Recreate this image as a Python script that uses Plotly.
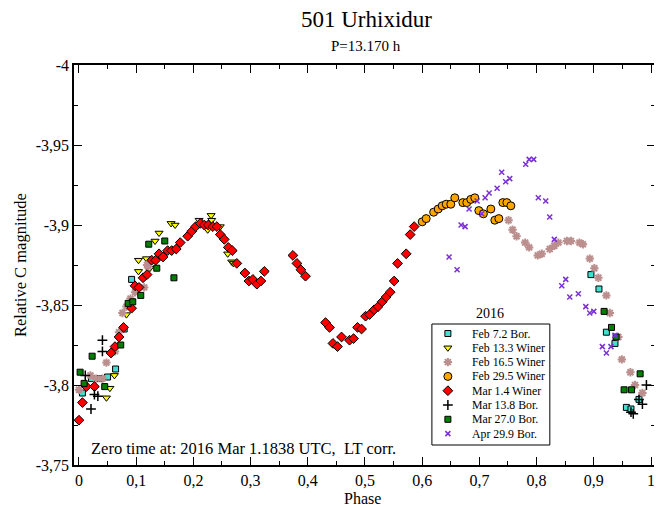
import plotly.graph_objects as go

# ---- data ----
cyan_phase = [0.006, 0.022, 0.037, 0.050, 0.064, 0.079, 0.092, 0.895, 0.909, 0.922, 0.937, 0.957, 0.965, 0.979]
cyan_mag = [-3.795, -3.804, -3.804, -3.805, -3.810, -3.835, -3.866, -3.869, -3.860, -3.833, -3.826, -3.786, -3.785, -3.791]

yellow_phase = [0.048, 0.054, 0.062, 0.083, 0.104, 0.104, 0.118, 0.124, 0.133, 0.140, 0.161, 0.168, 0.210, 0.225, 0.231, 0.232, 0.247, 0.260, 0.267, 0.270]
yellow_mag = [-3.792, -3.798, -3.806, -3.844, -3.871, -3.878, -3.879, -3.873, -3.890, -3.895, -3.901, -3.900, -3.903, -3.897, -3.906, -3.903, -3.899, -3.882, -3.877, -3.876]

brown_phase = [0.000, 0.020, 0.030, 0.041, 0.048, 0.063, 0.070, 0.076, 0.083, 0.090, 0.098, 0.114, 0.119, 0.121,
               0.751, 0.758, 0.765, 0.780, 0.787, 0.802, 0.809, 0.823, 0.831, 0.838, 0.853, 0.860, 0.875, 0.881,
               0.893, 0.901, 0.908, 0.922, 0.928, 0.943, 0.949, 0.964, 0.972, 0.985]
brown_mag = [-3.797, -3.806, -3.804, -3.804, -3.814, -3.821, -3.833, -3.845, -3.849, -3.854, -3.858, -3.861, -3.875, -3.874,
             -3.903, -3.897, -3.893, -3.889, -3.886, -3.881, -3.882, -3.885, -3.887, -3.889, -3.890, -3.890, -3.889, -3.888,
             -3.879, -3.873, -3.867, -3.856, -3.845, -3.830, -3.816, -3.808, -3.800, -3.795]

orange_phase = [0.600, 0.607, 0.620, 0.628, 0.635, 0.642, 0.650, 0.657, 0.671, 0.678, 0.685, 0.692, 0.699, 0.707, 0.720, 0.727, 0.734, 0.741, 0.748, 0.755]
orange_mag = [-3.902, -3.904, -3.908, -3.910, -3.912, -3.913, -3.913, -3.917, -3.914, -3.914, -3.916, -3.917, -3.909, -3.907, -3.910, -3.903, -3.904, -3.914, -3.914, -3.912]

red_phase = [0.000, 0.006, 0.013, 0.027, 0.056, 0.063, 0.070, 0.078, 0.092, 0.098, 0.105, 0.112, 0.119, 0.127, 0.134,
             0.140, 0.147, 0.155, 0.162, 0.170, 0.177, 0.190, 0.197, 0.204, 0.212, 0.219, 0.226, 0.234, 0.241, 0.247,
             0.254, 0.261, 0.268, 0.276, 0.290, 0.297, 0.304, 0.311, 0.318, 0.324, 0.374, 0.381, 0.388, 0.396, 0.431,
             0.438, 0.444, 0.452, 0.459, 0.473, 0.480, 0.487, 0.494, 0.501, 0.508, 0.516, 0.523, 0.530, 0.537, 0.544,
             0.551, 0.557, 0.572, 0.579, 0.586]
red_mag = [-3.778, -3.789, -3.799, -3.799, -3.820, -3.824, -3.830, -3.836, -3.848, -3.862, -3.861, -3.867, -3.869, -3.878, -3.878,
           -3.882, -3.880, -3.884, -3.884, -3.885, -3.889, -3.893, -3.896, -3.899, -3.901, -3.900, -3.900, -3.899, -3.899, -3.894,
           -3.891, -3.886, -3.884, -3.876, -3.870, -3.865, -3.866, -3.863, -3.865, -3.871, -3.881, -3.876, -3.872, -3.868, -3.839,
           -3.836, -3.826, -3.824, -3.830, -3.828, -3.829, -3.836, -3.835, -3.843, -3.844, -3.847, -3.849, -3.852, -3.855, -3.858,
           -3.865, -3.876, -3.882, -3.894, -3.899]

plus_phase = [0.011, 0.021, 0.027, 0.033, 0.041, 0.041, 0.965, 0.969, 0.979, 0.985, 0.992]
plus_mag = [-3.806, -3.785, -3.794, -3.793, -3.828, -3.821, -3.783, -3.782, -3.791, -3.788, -3.800]

green_phase = [0.002, 0.009, 0.023, 0.045, 0.073, 0.086, 0.094, 0.108, 0.122, 0.136, 0.150, 0.166, 0.918, 0.931, 0.939, 0.953, 0.966, 0.981]
green_mag = [-3.808, -3.801, -3.818, -3.799, -3.825, -3.851, -3.852, -3.856, -3.888, -3.873, -3.890, -3.867, -3.846, -3.836, -3.830, -3.797, -3.797, -3.807]

purple_phase = [0.647, 0.661, 0.668, 0.675, 0.682, 0.696, 0.704, 0.710, 0.717, 0.731, 0.739, 0.746, 0.753, 0.781, 0.787, 0.795,
                0.803, 0.816, 0.823, 0.831, 0.844, 0.851, 0.858, 0.873, 0.886, 0.893, 0.900, 0.915, 0.922, 0.930, 0.937]
purple_mag = [-3.880, -3.872, -3.900, -3.899, -3.910, -3.915, -3.907, -3.917, -3.920, -3.923, -3.933, -3.927, -3.929, -3.938, -3.941, -3.941,
              -3.917, -3.915, -3.905, -3.891, -3.862, -3.866, -3.855, -3.857, -3.849, -3.845, -3.846, -3.824, -3.820, -3.824, -3.831]

series_names = ["Feb 7.2 Bor.", "Feb 13.3 Winer", "Feb 16.5 Winer", "Feb 29.5 Winer",
                "Mar 1.4 Winer", "Mar 13.8 Bor.", "Mar 27.0 Bor.", "Apr 29.9 Bor."]

x_tickvals = [0, 0.1, 0.2, 0.3, 0.4, 0.5, 0.6, 0.7, 0.8, 0.9, 1.0]
x_ticktext = ["0", "0,1", "0,2", "0,3", "0,4", "0,5", "0,6", "0,7", "0,8", "0,9", "1"]
y_tickvals = [-4, -3.95, -3.9, -3.85, -3.8, -3.75]
y_ticktext = ["-4", "-3,95", "-3,9", "-3,85", "-3,8", "-3,75"]

FONT = "Liberation Serif, Times New Roman, Times, serif"

markers = [
    dict(symbol="square", size=6, color="#40E0D0", line=dict(color="black", width=1)),
    dict(symbol="triangle-down", size=7, color="#FFFF00", line=dict(color="black", width=1)),
    dict(symbol="asterisk-open", size=7, color="#BC8F8F", line=dict(color="#BC8F8F", width=2)),
    dict(symbol="circle", size=8, color="#FFA500", line=dict(color="black", width=1)),
    dict(symbol="diamond", size=7.5, color="#FF0000", line=dict(color="black", width=1)),
    dict(symbol="cross-thin-open", size=7, color="black", line=dict(color="black", width=1.5)),
    dict(symbol="square", size=6, color="#008000", line=dict(color="black", width=1)),
    dict(symbol="x-thin-open", size=5, color="#7B2FD6", line=dict(color="#7B2FD6", width=1.5)),
]
data_x = [cyan_phase, yellow_phase, brown_phase, orange_phase, red_phase, plus_phase, green_phase, purple_phase]
data_y = [cyan_mag, yellow_mag, brown_mag, orange_mag, red_mag, plus_mag, green_mag, purple_mag]

fig = go.Figure()
for name, xs, ys, mk in zip(series_names, data_x, data_y, markers):
    fig.add_trace(go.Scatter(x=xs, y=ys, mode="markers", name=name, marker=mk, showlegend=False))

# ---- compact legend box, like the reference ----
LEG_X0, LEG_X1, LEG_Y0, LEG_Y1 = 0.616, 0.819, 0.05, 0.3525
fig.add_shape(type="rect", xref="paper", yref="paper", x0=LEG_X0, x1=LEG_X1, y0=LEG_Y0, y1=LEG_Y1,
              line=dict(color="black", width=1), fillcolor="rgba(0,0,0,0)", layer="above")
for i, (name, mk) in enumerate(zip(series_names, markers)):
    fig.add_trace(go.Scatter(x=[16], y=[9.5 + 14.3 * i], mode="markers", marker=mk, name=name,
                             xaxis="x2", yaxis="y2", showlegend=False, hoverinfo="skip", cliponaxis=False))
    fig.add_annotation(text=name, xref="x2", yref="y2", x=38, y=9.5 + 14.3 * i, xanchor="left", yanchor="middle",
                       showarrow=False, font=dict(family=FONT, size=11.8, color="black"))

axis_common = dict(
    showline=True, linecolor="black", linewidth=1.5, mirror="allticks",
    ticks="inside", ticklen=8, tickwidth=1, tickcolor="black",
    showgrid=False, zeroline=False, automargin=False,
    tickfont=dict(family=FONT, size=16, color="black"),
)

# page body adds an 8px offset; margins compensate so the frame sits at 74..655 x 65..465
fig.update_layout(
    xaxis=dict(
        range=[-0.0087, 1.007], tickmode="array", tickvals=x_tickvals, ticktext=x_ticktext,
        minor=dict(ticks="inside", ticklen=4, tickmode="array",
                   tickvals=[0.05, 0.15, 0.25, 0.35, 0.45, 0.55, 0.65, 0.75, 0.85, 0.95], tickcolor="black"),
        **axis_common,
    ),
    yaxis=dict(
        range=[-3.75, -4.0], tickmode="array", tickvals=y_tickvals, ticktext=y_ticktext,
        minor=dict(ticks="inside", ticklen=4, tickmode="array",
                   tickvals=[-3.975, -3.925, -3.875, -3.825, -3.775], tickcolor="black"),
        **axis_common,
    ),
    xaxis2=dict(domain=[LEG_X0, LEG_X1], range=[0, 118], visible=False, anchor="y2", fixedrange=True),
    yaxis2=dict(domain=[LEG_Y0, LEG_Y1], range=[121, 0], visible=False, anchor="x2", fixedrange=True),
    width=662, height=507,
    margin=dict(l=66, r=15, t=57, b=50, autoexpand=False),
    paper_bgcolor="white", plot_bgcolor="white",
    font=dict(family=FONT, color="black"),
    showlegend=False,
)

fig.add_annotation(text="501 Urhixidur", xref="paper", yref="paper", x=0.503, y=1.0, yshift=46,
                   showarrow=False, font=dict(family=FONT, size=23, color="black"), xanchor="center", yanchor="middle")
fig.add_annotation(text="P=13.170 h", xref="paper", yref="paper", x=0.503, y=1.0, yshift=19,
                   showarrow=False, font=dict(family=FONT, size=15, color="black"), xanchor="center", yanchor="middle")
fig.add_annotation(text="2016", xref="paper", yref="paper", x=0.716, y=0.38,
                   showarrow=False, font=dict(family=FONT, size=14, color="black"), xanchor="center", yanchor="middle")
fig.add_annotation(text="Zero time at: 2016 Mar 1.1838 UTC,  LT corr.", xref="paper", yref="paper", x=0.026, y=0.042,
                   showarrow=False, font=dict(family=FONT, size=16.5, color="black"), xanchor="left", yanchor="middle")
fig.add_annotation(text="Phase", xref="paper", yref="paper", x=0.497, y=0.0, yshift=-33,
                   showarrow=False, font=dict(family=FONT, size=16, color="black"), xanchor="center", yanchor="middle")
fig.add_annotation(text="Relative C magnitude", xref="paper", yref="paper", x=0.0, xshift=-54, y=0.5,
                   textangle=-90, showarrow=False, font=dict(family=FONT, size=16.5, color="black"),
                   xanchor="center", yanchor="middle")

fig.write_html("out.html")
